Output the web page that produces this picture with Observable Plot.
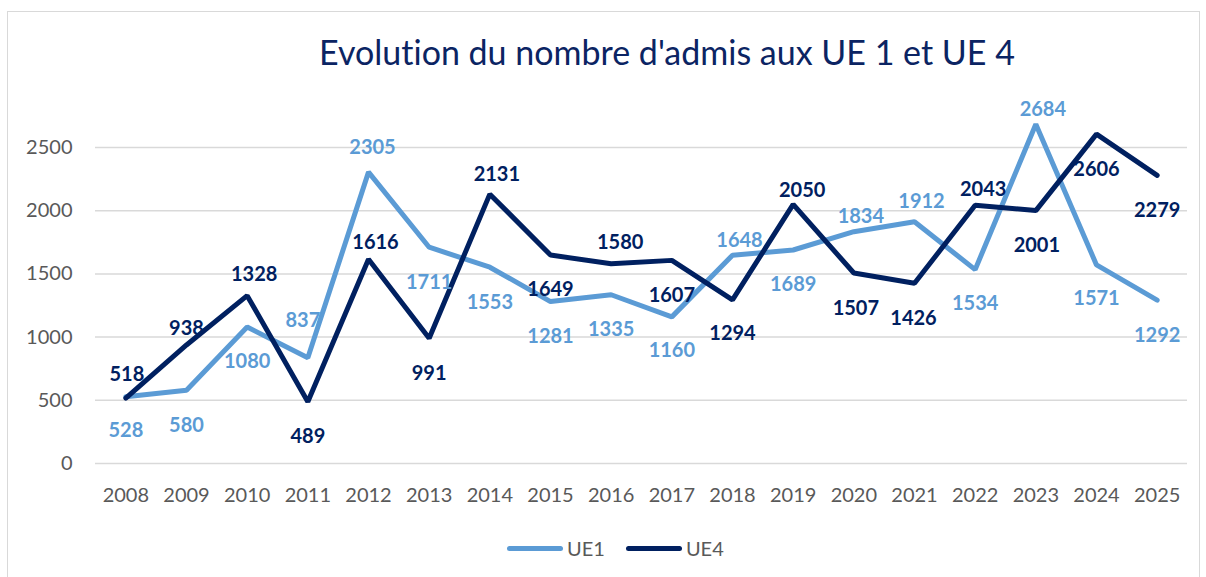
<!DOCTYPE html>
<html>
<head>
<meta charset="utf-8">
<script src="https://cdn.jsdelivr.net/npm/d3@7"></script>
<script src="https://cdn.jsdelivr.net/npm/@observablehq/plot@0.6"></script>
<style>
  body { margin: 0; background: #fff; font-family: Lato, "Open Sans", sans-serif; font-variant-ligatures: none; }
  #wrap { position: relative; width: 1206px; height: 577px; overflow: hidden; background: #fff; }
  #frame { position: absolute; left: 7px; top: 11px; width: 1193px; height: 620px; border: 1px solid #d9d9d9; box-sizing: border-box; }
  #title { position: absolute; left: 667px; top: 31px; transform: translateX(-50%); white-space: nowrap;
           font-size: 34px; line-height: 42px; color: #0b2463; font-family: Lato, sans-serif; font-variant-ligatures: none; }
  #chart { position: absolute; left: 0; top: 0; }
  #chart svg text { font-variant-ligatures: none; }
  #legend { position: absolute; left: 507px; top: 536px; height: 24px; display: flex; align-items: center;
            font-size: 20px; color: #595959; font-family: Lato, sans-serif; }
  .sw { display: inline-block; width: 56px; height: 5px; border-radius: 3px; margin-right: 4px; }
  .item { display: flex; align-items: center; margin-right: 21px; }
</style>
</head>
<body>
<div id="wrap">
  <div id="frame"></div>
  <div id="chart"></div>
  <div id="title">Evolution du nombre d'admis aux UE 1 et UE 4</div>
  <div id="legend"></div>
</div>
<script>
// ---- Data ----
const years = ["2008","2009","2010","2011","2012","2013","2014","2015","2016","2017","2018","2019","2020","2021","2022","2023","2024","2025"];
const ue1 = [528, 580, 1080, 837, 2305, 1711, 1553, 1281, 1335, 1160, 1648, 1689, 1834, 1912, 1534, 2684, 1571, 1292];
const ue4 = [518, 938, 1328, 489, 1616, 991, 2131, 1649, 1580, 1607, 1294, 2050, 1507, 1426, 2043, 2001, 2606, 2279];
const seriesNames = ["UE1", "UE4"];
const yTicks = [0, 500, 1000, 1500, 2000, 2500];

// ---- Label placement (pixel offsets from each point) ----
const ue1LabelOffset = [[0,34],[0,35],[0,35],[-5,-37],[4,-25],[0,35],[0,35],[0,35],[0,35],[0,34],[7,-15],[0,35],[7,-15],[7,-20],[0,34],[7,-15],[0,34],[0,35]];
const ue4LabelOffset = [[1,-23],[0,-16],[7,-21],[0,35],[7,-17],[0,35],[7,-20],[0,35],[9,-21],[0,35],[0,34],[9,-14],[2,36],[-1,35],[8,-16],[1,35],[0,35],[0,35]];

const colors = {UE1: "#5b9bd5", UE4: "#002060"};

const rows1 = years.map((y, i) => ({year: y, value: ue1[i], series: "UE1"}));
const rows4 = years.map((y, i) => ({year: y, value: ue4[i], series: "UE4"}));

const labelMarks = [];
rows1.forEach((d, i) => labelMarks.push(Plot.text([d], {
  x: "year", y: "value", text: d => String(d.value),
  dx: ue1LabelOffset[i][0], dy: ue1LabelOffset[i][1],
  fill: colors.UE1, fontWeight: "bold", fontSize: 20, fontFamily: "Lato, sans-serif"
})));
rows4.forEach((d, i) => labelMarks.push(Plot.text([d], {
  x: "year", y: "value", text: d => String(d.value),
  dx: ue4LabelOffset[i][0], dy: ue4LabelOffset[i][1],
  fill: colors.UE4, fontWeight: "bold", fontSize: 20, fontFamily: "Lato, sans-serif"
})));

// leader line for the displaced 837 label (2011, UE1)
const leader = Plot.tickX([rows1[3]], {x: "year", y: "value", stroke: "#a6a6a6", strokeWidth: 1.2, dy: -10, dx: -1, insetTop: 0});

const chart = Plot.plot({
  width: 1206,
  height: 508,
  marginTop: 147,
  marginBottom: 45,
  marginLeft: 95,
  marginRight: 19,
  style: {fontFamily: "Lato, sans-serif", background: "transparent", overflow: "visible"},
  x: {type: "point", domain: years, padding: 0.5, round: false},
  y: {domain: [0, 2500], nice: false},
  marks: [
    Plot.gridY(yTicks, {stroke: "#d9d9d9", strokeOpacity: 1, strokeWidth: 1.5}),
    Plot.axisY(yTicks, {tickSize: 0, tickPadding: 23, fontSize: 20, fill: "#595959", label: null, tickFormat: d => String(d)}),
    Plot.axisX({tickSize: 0, tickPadding: 24, fontSize: 20, fill: "#595959", label: null}),
    Plot.line(rows1, {x: "year", y: "value", stroke: colors.UE1, strokeWidth: 5, strokeLinejoin: "miter"}),
    Plot.line(rows4, {x: "year", y: "value", stroke: colors.UE4, strokeWidth: 5, strokeLinejoin: "miter"}),
    ...labelMarks
  ]
});
document.getElementById("chart").appendChild(chart);

const legend = document.getElementById("legend");
seriesNames.forEach(name => {
  const item = document.createElement("div");
  item.className = "item";
  const sw = document.createElement("span");
  sw.className = "sw";
  sw.style.background = colors[name];
  const t = document.createElement("span");
  t.textContent = name;
  item.appendChild(sw);
  item.appendChild(t);
  legend.appendChild(item);
});
</script>
</body>
</html>
